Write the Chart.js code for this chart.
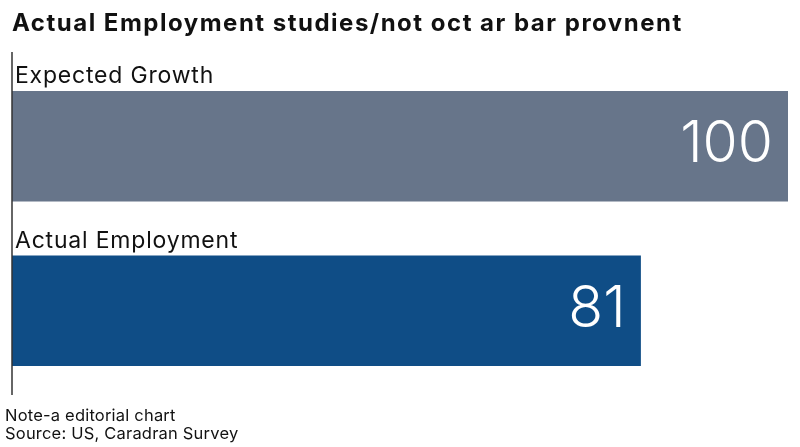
<!DOCTYPE html>
<html>
<head>
<meta charset="utf-8">
<script src="https://cdn.jsdelivr.net/npm/chart.js@4.4.1/dist/chart.umd.min.js"></script>
<style>
  html, body { margin: 0; padding: 0; background: #ffffff; }
  #wrap { width: 800px; height: 447px; position: relative; }
</style>
</head>
<body>
<div id="wrap"><canvas id="barChart"></canvas></div>
<script>
// chart data
const categories = ['Expected Growth', 'Actual Employment'];
const values = [100, 81];
const barColors = ['#67758a', '#0f4d86'];
const titleText = 'Actual Employment studies/not oct ar bar provnent';
const footerLines = ['Note-a editorial chart', 'Source: US, Caradran Survey'];

const FONT = "Inter, 'Noto Sans', sans-serif";

// draws title, category labels, value labels, axis line and footer
const annotate = {
    id: 'annotate',
    afterDatasetsDraw(chart) {
        const ctx = chart.ctx;
        const area = chart.chartArea;
        const meta = chart.getDatasetMeta(0);
        ctx.save();

        // title
        ctx.fillStyle = '#111111';
        ctx.textAlign = 'left';
        ctx.textBaseline = 'alphabetic';
        ctx.font = "700 24px " + FONT;
        ctx.letterSpacing = '1.5px';
        ctx.fillText(titleText, 12, 31);

        // vertical axis line
        ctx.strokeStyle = '#333333';
        ctx.lineWidth = 1.5;
        ctx.beginPath();
        ctx.moveTo(area.left, area.top - 12);
        ctx.lineTo(area.left, area.bottom + 2);
        ctx.stroke();

        meta.data.forEach((bar, i) => {
            const top = bar.y - bar.height / 2;
            // category label above the bar
            ctx.fillStyle = '#111111';
            ctx.textAlign = 'left';
            ctx.font = "400 23px " + FONT;
            ctx.letterSpacing = '0.8px';
            ctx.fillText(categories[i], area.left + 3, top - 8);
            // value inside bar
            ctx.fillStyle = '#ffffff';
            ctx.textAlign = 'right';
            ctx.textBaseline = 'middle';
            ctx.font = "300 57px " + FONT;
            ctx.letterSpacing = '0px';
            ctx.fillText(String(values[i]), bar.x - 15, bar.y - 1);
            ctx.textBaseline = 'alphabetic';
        });

        // footer
        ctx.fillStyle = '#111111';
        ctx.textAlign = 'left';
        ctx.font = "400 16.5px " + FONT;
        ctx.letterSpacing = '0.2px';
        ctx.fillText(footerLines[0], 5, 421);
        ctx.fillText(footerLines[1], 5, 439);

        ctx.restore();
    }
};

new Chart(document.getElementById('barChart'), {
    type: 'bar',
    data: {
        labels: categories,
        datasets: [{
            data: values,
            backgroundColor: barColors,
            borderWidth: 0,
            barThickness: 110
        }]
    },
    options: {
        indexAxis: 'y',
        responsive: true,
        maintainAspectRatio: false,
        animation: false,
        layout: {
            padding: { left: 12, right: 12, top: 64, bottom: 54 }
        },
        scales: {
            x: { display: false, min: 0, max: 100 },
            y: { display: false }
        },
        plugins: {
            legend: { display: false },
            tooltip: { enabled: false }
        }
    },
    plugins: [annotate]
});
</script>
</body>
</html>
